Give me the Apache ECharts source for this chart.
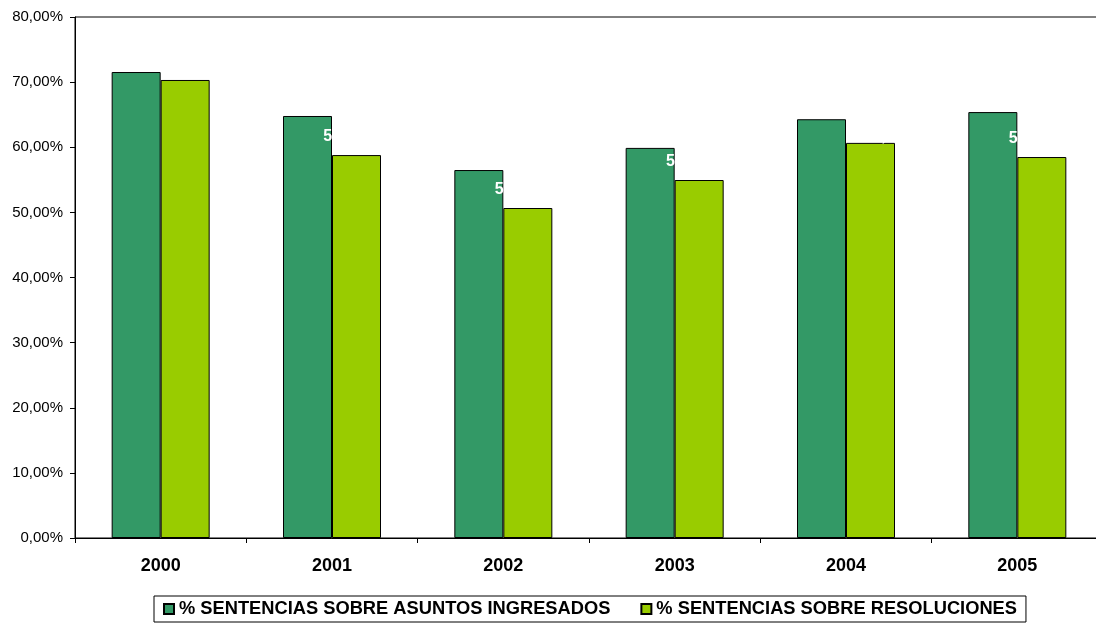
<!DOCTYPE html>
<html><head><meta charset="utf-8">
<script src="https://cdn.jsdelivr.net/npm/echarts@6/dist/echarts.min.js"></script>
<style>html,body{margin:0;padding:0;background:#fff;overflow:hidden}#c{width:1103px;height:624px}</style>
</head><body><div id="c"></div>
<script>
var categories = ['2000','2001','2002','2003','2004','2005'];
var seriesNames = ['% SENTENCIAS SOBRE ASUNTOS INGRESADOS','% SENTENCIAS SOBRE RESOLUCIONES'];
var ingresados = [71.55, 64.80, 56.50, 59.90, 64.30, 65.40];
var resoluciones = [70.33, 58.80, 50.67, 54.97, 60.67, 58.50];
var yTicks = {min: 0, max: 80, interval: 10};

function fmt(v){ return v.toFixed(2).replace('.', ',') + '%'; }
var font = 'Liberation Sans, Arial, sans-serif';
var resData = resoluciones.map(function(v, i){
  var d = {value: v};
  if (categories[i] === '2004') d.label = {offset: [20, 12]};
  return d;
});
var chart = echarts.init(document.getElementById('c'));
chart.setOption({
  animation: false,
  backgroundColor: '#fff',
  grid: {left: 75, right: 0, top: 17, bottom: 86, show: true, borderColor: '#000', borderWidth: 1, backgroundColor: 'transparent'},
  xAxis: {
    type: 'category', data: categories,
    axisLine: {lineStyle: {color: '#000', width: 1}},
    axisTick: {show: true, length: 5, lineStyle: {color: '#000'}},
    axisLabel: {color: '#000', fontFamily: font, fontSize: 18, fontWeight: 'bold', margin: 19}
  },
  yAxis: {
    type: 'value', min: yTicks.min, max: yTicks.max, interval: yTicks.interval,
    axisLine: {show: true, lineStyle: {color: '#000', width: 1}},
    axisTick: {show: true, length: 5, lineStyle: {color: '#000'}},
    splitLine: {show: false},
    axisLabel: {color: '#000', fontFamily: font, fontSize: 15, margin: 12, formatter: function(v){ return fmt(v); }}
  },
  legend: {
    bottom: 2, left: 154,
    icon: 'rect',
    itemWidth: 10, itemHeight: 10, itemGap: 30,
    borderColor: '#000', borderWidth: 1, padding: [4, 9],
    textStyle: {color: '#000', fontFamily: font, fontSize: 18.3, fontWeight: 'bold'},
    data: seriesNames
  },
  series: [
    {name: seriesNames[0], type: 'bar', data: ingresados, barWidth: 49, barGap: '0%',
     itemStyle: {color: '#339966', borderColor: '#000', borderWidth: 1}},
    {name: seriesNames[1], type: 'bar', data: resData, barWidth: 49, barGap: '0%',
     itemStyle: {color: '#99CC00', borderColor: '#000', borderWidth: 1},
     label: {show: true, position: 'top', distance: 10, offset: [-6, 0], color: '#fff', fontFamily: font, fontSize: 16, fontWeight: 'bold',
       formatter: function(p){ return fmt(p.value); }}}
  ]
});
</script></body></html>
